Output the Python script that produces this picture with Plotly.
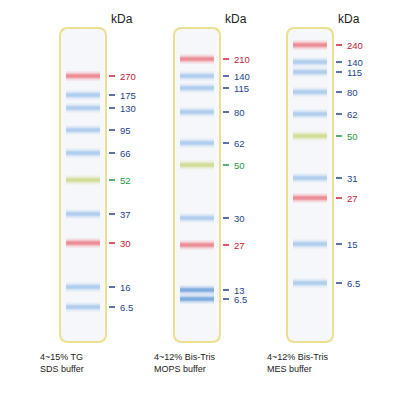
import plotly.graph_objects as go

# lane geometry is in page pixels (0..400)
lane_left = [60, 174, 287]
lane_width = 46
lane_top, lane_bottom = 28, 342

lane1_kda = ['270', '175', '130', '95', '66', '52', '37', '30', '16', '6.5']
lane1_y = [76, 95, 108, 130, 153, 180, 214, 243, 287, 307]
lane1_col = ['r', 'b', 'b', 'b', 'b', 'g', 'b', 'r', 'b', 'b']

lane2_kda = ['210', '140', '115', '80', '62', '50', '30', '27', '13', '6.5']
lane2_y = [59, 76, 88, 112, 143, 165, 218, 245, 290, 299]
lane2_col = ['r', 'b', 'b', 'b', 'b', 'g', 'b', 'r', 'd', 'd']

lane3_kda = ['240', '140', '115', '80', '62', '50', '31', '27', '15', '6.5']
lane3_y = [45, 62, 72, 92, 114, 136, 178, 198, 244, 283]
lane3_col = ['r', 'b', 'b', 'b', 'b', 'g', 'b', 'r', 'b', 'b']

captions = ['4~15% TG<br>SDS buffer', '4~12% Bis-Tris<br>MOPS buffer', '4~12% Bis-Tris<br>MES buffer']

band_color = {'r': '#ec6f78', 'b': '#9cc4ec', 'g': '#c9d77a', 'd': '#5d98da'}
text_color = {'r': '#c8202f', 'b': '#24448a', 'g': '#1f9a45', 'd': '#24448a'}

fig = go.Figure()
shapes = []
ann = []
for i, (kda, ys, cols) in enumerate([(lane1_kda, lane1_y, lane1_col),
                                     (lane2_kda, lane2_y, lane2_col),
                                     (lane3_kda, lane3_y, lane3_col)]):
    x0 = lane_left[i]
    x1 = x0 + lane_width
    r = 8
    shapes.append(dict(type='path', xref='x', yref='y',
                       path=f'M{x0+r},{lane_top} L{x1-r},{lane_top} Q{x1},{lane_top} {x1},{lane_top+r} '
                            f'L{x1},{lane_bottom-r} Q{x1},{lane_bottom} {x1-r},{lane_bottom} '
                            f'L{x0+r},{lane_bottom} Q{x0},{lane_bottom} {x0},{lane_bottom-r} '
                            f'L{x0},{lane_top+r} Q{x0},{lane_top} {x0+r},{lane_top} Z',
                       line=dict(color='#ebe08f', width=2), fillcolor='#f6f7fa', layer='below'))
    for k, y, c in zip(kda, ys, cols):
        for w, op in [(9, 0.2), (5, 0.4), (3, 0.5)]:
            fig.add_trace(go.Scatter(x=[x0 + 6, x1 - 6], y=[y, y], mode='lines',
                                     line=dict(color=band_color[c], width=w),
                                     opacity=op, hoverinfo='skip', showlegend=False))
        shapes.append(dict(type='line', xref='x', yref='y', x0=x1 + 3, x1=x1 + 9, y0=y, y1=y,
                           line=dict(color=text_color[c], width=1.5)))
        ann.append(dict(x=x1 + 12, y=y, text=k, showarrow=False, xanchor='left',
                        font=dict(size=9.5, color=text_color[c])))
    ann.append(dict(x=x1 + 16, y=19, text='kDa', showarrow=False,
                    font=dict(size=12, color='#222')))
    ann.append(dict(x=x0 - 22, y=363, text=captions[i], showarrow=False, xanchor='left',
                    align='left', font=dict(size=9, color='#222')))

# page is offset by the 8px body margin, so shift the ranges to compensate
fig.update_layout(width=400, height=400, margin=dict(l=0, r=0, t=0, b=0),
                  plot_bgcolor='white', paper_bgcolor='white',
                  font=dict(family='Arial, Liberation Sans'),
                  shapes=shapes, annotations=ann,
                  xaxis=dict(range=[8, 408], visible=False, fixedrange=True),
                  yaxis=dict(range=[408, 8], visible=False, fixedrange=True))
fig.write_html('out.html')
